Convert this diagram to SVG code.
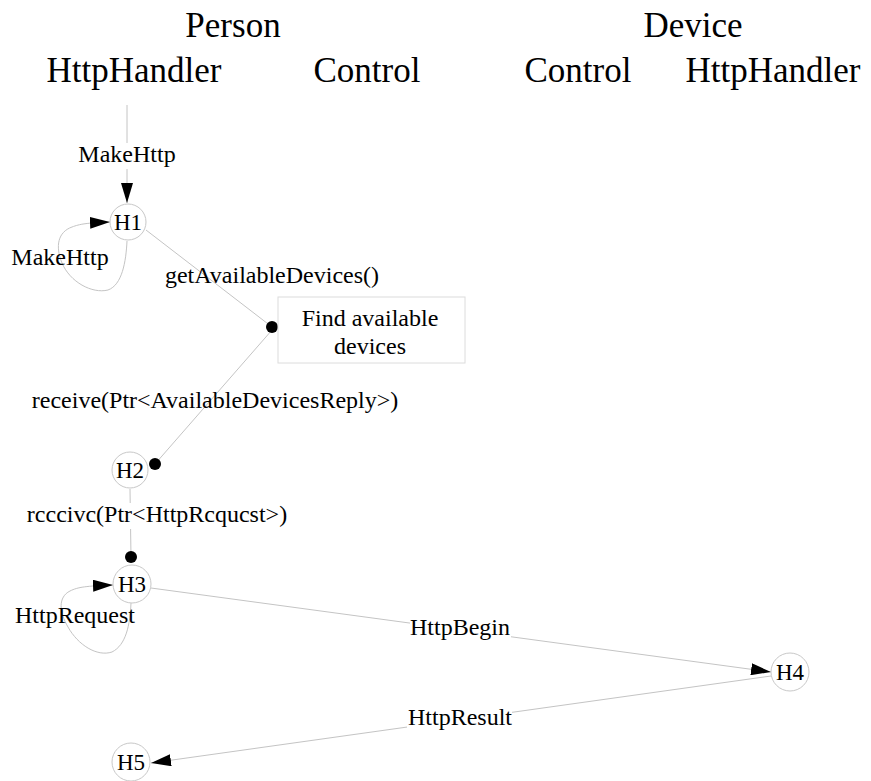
<svg xmlns="http://www.w3.org/2000/svg" width="871" height="781" viewBox="0 0 871 781">
<style>
text { fill: #000; text-anchor: middle; }
.hdr { font-size: 35px; }
.lbl { font-size: 24px; }
.nd { font-size: 23px; }
.node circle { fill: #fff; stroke: #c8c8c8; stroke-width: 1; }
.edge { fill: none; stroke: #c4c4c4; stroke-width: 1; }
.bg { fill: #fff; }
</style>
<defs>
<marker id="arr" markerUnits="userSpaceOnUse" markerWidth="20" markerHeight="12" viewBox="0 0 20 12" refX="20" refY="6" orient="auto">
<path d="M0,0 L20,6 L0,12 z" fill="#000"/>
</marker>
</defs>
<rect width="871" height="781" fill="#fff"/>
<g font-family="Liberation Serif, Tinos, DejaVu Serif, serif">
<g id="headers">
<text class="hdr" x="233" y="37">Person</text>
<text class="hdr" x="693" y="37">Device</text>
<text class="hdr" x="134" y="82">HttpHandler</text>
<text class="hdr" x="367" y="82">Control</text>
<text class="hdr" x="578" y="82">Control</text>
<text class="hdr" x="773" y="82">HttpHandler</text>
</g>
<g id="connectors">
<path class="edge" d="M127,105 L127,203" marker-end="url(#arr)"/>
<path class="edge" d="M127,241 C126,262 122,285 108,290 C92,294 70,282 62,263 C55,246 58,232 72,227 C80,224 86,223 110,222" marker-end="url(#arr)"/>
<path class="edge" d="M146,230 L272,327"/>
<path class="edge" d="M272,330 L155,464"/>
<path class="edge" d="M130,489 L131,557"/>
<path class="edge" d="M131,603 C130,625 126,645 112,652 C97,657 78,645 68,627 C59,612 58,597 70,591 C78,587 86,586 113,585" marker-end="url(#arr)"/>
<path class="edge" d="M151,588 L771,672" marker-end="url(#arr)"/>
<path class="edge" d="M771,676 L151,763" marker-end="url(#arr)"/>
<circle cx="272" cy="327" r="6" fill="#000"/>
<circle cx="155" cy="464" r="6" fill="#000"/>
<circle cx="131" cy="557" r="6" fill="#000"/>
</g>
<g id="edge-labels">
<rect class="bg" x="78" y="143" width="98" height="26"/>
<text class="lbl" x="127" y="162">MakeHttp</text>
<text class="lbl" x="60" y="265">MakeHttp</text>
<text class="lbl" x="272" y="283">getAvailableDevices()</text>
<text class="lbl" x="215" y="408">receive(Ptr&lt;AvailableDevicesReply&gt;)</text>
<rect class="bg" x="29" y="503" width="257" height="26"/>
<text class="lbl" x="157" y="522">rcccivc(Ptr&lt;HttpRcqucst&gt;)</text>
<text class="lbl" x="75" y="623">HttpRequest</text>
<rect class="bg" x="410" y="616" width="101" height="26"/>
<text class="lbl" x="460" y="635">HttpBegin</text>
<rect class="bg" x="407" y="706" width="105" height="26"/>
<text class="lbl" x="460" y="725">HttpResult</text>
</g>
<g id="find-devices" class="node">
<rect x="278" y="297" width="187" height="66" fill="#fff" stroke="#dcdcdc" stroke-width="1"/>
<text class="lbl" x="370" y="326">Find available</text>
<text class="lbl" x="370" y="354">devices</text>
</g>
<g id="H1" class="node"><circle cx="128" cy="222" r="18"/><text class="nd" x="128" y="230">H1</text></g>
<g id="H2" class="node"><circle cx="130" cy="470" r="18"/><text class="nd" x="130" y="478">H2</text></g>
<g id="H3" class="node"><circle cx="132" cy="584" r="19"/><text class="nd" x="132" y="592">H3</text></g>
<g id="H4" class="node"><circle cx="790" cy="672" r="19"/><text class="nd" x="790" y="680">H4</text></g>
<g id="H5" class="node"><circle cx="131" cy="762" r="19"/><text class="nd" x="131" y="770">H5</text></g>
</g>
</svg>
